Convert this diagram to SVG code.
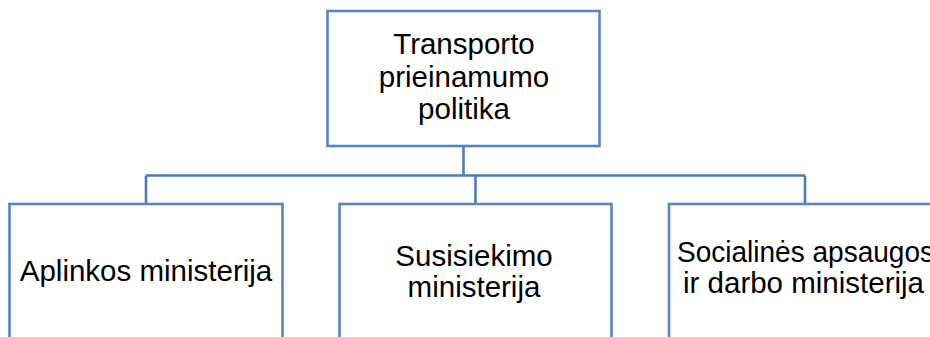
<svg xmlns="http://www.w3.org/2000/svg" width="930" height="337" viewBox="0 0 930 337">
<style>
.box{fill:#ffffff;stroke:#5685C0;stroke-width:2.6}
.conn{fill:none;stroke:#4D7DB5;stroke-width:2.6}
.t{font-family:"Liberation Sans",Arial,sans-serif;font-size:29.5px;fill:#000000;text-anchor:middle}
</style>
<rect width="930" height="337" fill="#ffffff"/>
<g id="connectors">
<path class="conn" d="M463.5 146 V175.5"/>
<path class="conn" d="M146 175.5 H805"/>
<path class="conn" d="M146 175.5 V204"/>
<path class="conn" d="M475.5 175.5 V204"/>
<path class="conn" d="M805 175.5 V204"/>
</g>
<g id="node-top">
<rect class="box" x="327.5" y="11" width="272" height="135"/>
<text class="t" x="464" y="54">Transporto</text>
<text class="t" x="464" y="87">prieinamumo</text>
<text class="t" x="464" y="119">politika</text>
</g>
<g id="node-aplinkos">
<rect class="box" x="9.5" y="204" width="273" height="150"/>
<text class="t" x="146" y="281">Aplinkos ministerija</text>
</g>
<g id="node-susisiekimo">
<rect class="box" x="339.5" y="204" width="272" height="150"/>
<text class="t" x="474" y="266">Susisiekimo</text>
<text class="t" x="474" y="297">ministerija</text>
</g>
<g id="node-socialines">
<rect class="box" x="669" y="204" width="273" height="150"/>
<text class="t" x="805.5" y="262" textLength="257" lengthAdjust="spacingAndGlyphs">Socialinės apsaugos</text>
<text class="t" x="803.5" y="293">ir darbo ministerija</text>
</g>
</svg>
